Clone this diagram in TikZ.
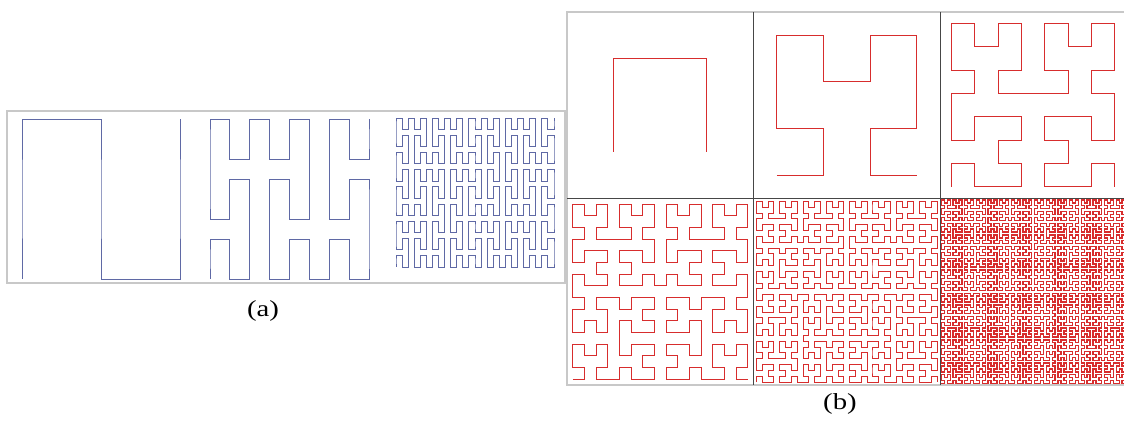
\documentclass[tikz,border=0pt]{standalone}
\usepackage{fontspec}
\setmainfont{Liberation Serif}
\usetikzlibrary{lindenmayersystems}
\definecolor{peano}{RGB}{95,105,165}
\definecolor{hilb}{RGB}{215,45,45}
\definecolor{lightframe}{RGB}{200,200,200}
\definecolor{darkframe}{RGB}{70,70,70}
\pgfdeclarelindenmayersystem{Hilbert}{
  \rule{A -> +BF-AFA-FB+}
  \rule{B -> -AF+BFB+FA-}
}
\pgfdeclarelindenmayersystem{Peano}{
  \rule{X -> XFYFX+F+YFXFY-F-XFYFX}
  \rule{Y -> YFXFY-F-XFYFX+F+YFXFY}
}
\begin{document}
\begin{tikzpicture}[x=1pt,y=1pt,
  abox/.style={draw=lightframe, line width=1.3pt},
  pcurve/.style={draw=peano, line width=0.9pt, line join=miter},
  hcurve/.style={draw=hilb, line width=1pt, line join=miter},
  densecurve/.style={hcurve, line width=1.35pt},
  outerframe/.style={draw=lightframe, line width=1.3pt},
  innerframe/.style={draw=darkframe, line width=1pt},
  lab/.style={font=\fontsize{23}{23}\selectfont, xscale=1.25, anchor=base, inner sep=0pt}]
\useasboundingbox (0,0) rectangle (1124,425);
\fill[white] (0,0) rectangle (1124,425);
% ---------- (a) Peano curves
\draw[abox] (7,142) rectangle (565,314);
\begin{scope}[shift={(22,146)}, xscale=79, yscale=80]
  \draw[pcurve, cm={0,1,1,0,(0,0)}, l-system={Peano, axiom=X, order=1, step=1pt, angle=90}] lindenmayer system;
\end{scope}
\begin{scope}[shift={(210,146)}, xscale=19.875, yscale=20]
  \draw[pcurve, cm={0,1,1,0,(0,0)}, l-system={Peano, axiom=X, order=2, step=1pt, angle=90}] lindenmayer system;
\end{scope}
\begin{scope}[shift={(396,158)}, xscale=6.077, yscale=5.73]
  \draw[pcurve, cm={0,1,1,0,(0,0)}, l-system={Peano, axiom=X, order=3, step=1pt, angle=90}] lindenmayer system;
\end{scope}
\node[lab] (la) at (263,108) {(a)};
% ---------- (b) Hilbert curves
\draw[hcurve, shift={(613.625,273.125)}, l-system={Hilbert, axiom=A, order=1, step=93.25pt, angle=90}] lindenmayer system;
\draw[hcurve, shift={(776.8125,249.8125)}, l-system={Hilbert, axiom=A, order=2, step=46.625pt, angle=90}] lindenmayer system;
\draw[hcurve, shift={(951.65625,238.15625)}, l-system={Hilbert, axiom=A, order=3, step=23.3125pt, angle=90}] lindenmayer system;
\draw[hcurve, shift={(572.828125,45.828125)}, l-system={Hilbert, axiom=A, order=4, step=11.65625pt, angle=90}] lindenmayer system;
\draw[hcurve, shift={(756.4140625,42.9140625)}, l-system={Hilbert, axiom=A, order=5, step=5.828125pt, angle=90}] lindenmayer system;
\draw[densecurve, shift={(941.45703,41.45703)}, l-system={Hilbert, axiom=A, order=6, step=2.9140625pt, angle=90}] lindenmayer system;
\draw[outerframe] (1126.5,413) -- (567,413) -- (567,40) -- (1126.5,40);
\draw[innerframe] (567,226.5) -- (1126.5,226.5);
\draw[innerframe] (753.5,40) -- (753.5,413);
\draw[innerframe] (940,40) -- (940,413);
\node[lab] (lb) at (840,15) {(b)};
\end{tikzpicture}
\end{document}
